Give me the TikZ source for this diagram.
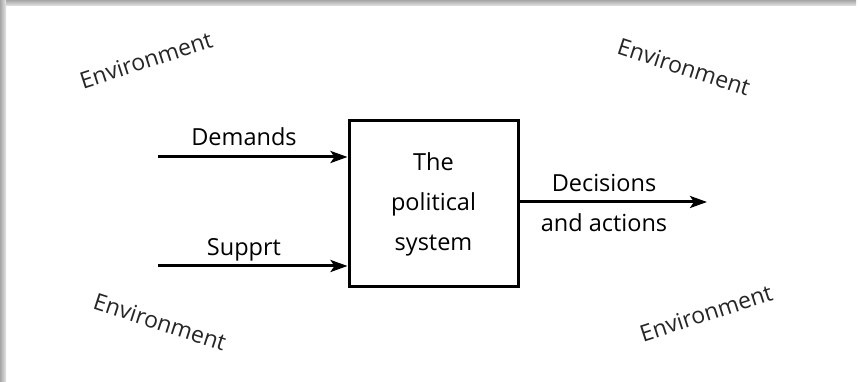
\documentclass[tikz,border=0pt]{standalone}
\usepackage{fontspec}
\setmainfont{Open Sans}
\usetikzlibrary{arrows.meta}
\begin{document}
\begin{tikzpicture}[x=1pt,y=1pt,
  lbl/.style={font=\fontsize{23.5}{28}\selectfont, inner sep=0pt, anchor=base},
  env/.style={font=\fontsize{23}{27}\selectfont, text=black!85, inner sep=0pt},
  flow/.style={line width=3pt, -{Stealth[length=17pt,width=12pt,inset=4pt]}},
  sysbox/.style={draw, line width=3pt, minimum width=169pt, minimum height=166pt,
    align=center, font=\fontsize{23.5}{40}\selectfont},
]
\useasboundingbox (0,0) rectangle (859,382);
\fill[white] (0,0) rectangle (859,382);
\shade[top color=gray!70, bottom color=gray!20] (0,376) rectangle (856,382);
\shade[left color=gray!70, right color=gray!20] (0,0) rectangle (6,382);

\node[sysbox] (sys) at (433.5,178) {The\\political\\system};

\coordinate (din) at (158,225);
\coordinate (sin) at (158,116);
\coordinate (dout) at (707,180);

\draw[flow] (din) -- (din -| sys.west);
\draw[flow] (sin) -- (sin -| sys.west);
\draw[flow] (sys.east |- dout) -- (dout);

\node[lbl] (dem) at (244,236) {Demands};
\node[lbl] (sup) at (244,126) {Supprt};
\node[lbl] (dec) at (604,190) {Decisions};
\node[lbl] (act) at (604,150) {and actions};

\node[env, rotate=18] (e1) at (146,322) {Environment};
\node[env, rotate=-18] (e2) at (684,315) {Environment};
\node[env, rotate=-18] (e3) at (160,60) {Environment};
\node[env, rotate=18] (e4) at (706,69) {Environment};
\end{tikzpicture}
\end{document}
